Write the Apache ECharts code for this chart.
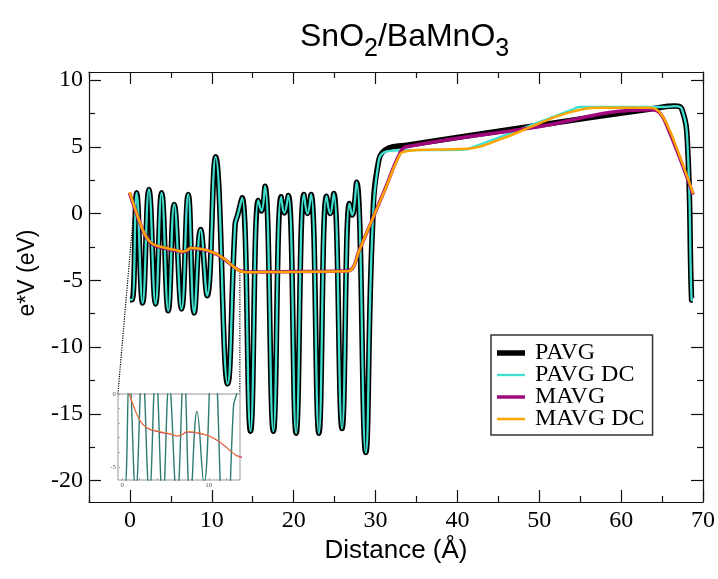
<!DOCTYPE html>
<html><head><meta charset="utf-8">
<script src="https://cdn.jsdelivr.net/npm/echarts@6/dist/echarts.min.js"></script>
<style>html,body{margin:0;padding:0;background:#fff}#c{width:718px;height:579px}</style>
</head><body><div id="c"></div>
<script>
// ---- tick values ----
const xMajorTicks = [0, 10, 20, 30, 40, 50, 60, 70];
const xMinorTicks = [-5, 5, 15, 25, 35, 45, 55, 65];
const yMajorTicks = [-20, -15, -10, -5, 0, 5, 10];
const yMinorTicks = [-17.5, -12.5, -7.5, -2.5, 2.5, 7.5];
const insetXLabels = [0, 10];
const insetXTicks = [0, 2, 4, 6, 8, 10, 12];
const insetYLabels = [-5, 0];
const insetYTicks = [-5, -4, -3, -2, -1, 0];

// ---- series values [distance, eV] ----
const pavg = [
  [0,-6.45],[0.28,-6.45],[0.82,1.55],[1.55,-6.7],[2.32,1.8],[3.13,-6.77],[3.87,1.55],
  [4.68,-7.28],[5.41,0.68],[6.31,-7.15],[7.12,1.43],[7.85,-7.45],[8.63,-1.2],[9.44,-6.15],
  [10.46,4.25],[11.93,-12.75],[12.85,-0.8],[13.15,-0.15],[13.71,1.18],[14.73,-16.3],
  [15.67,0.98],[16.08,0.2],[16.5,2.05],[17.52,-16.3],[18.46,1.25],[18.86,0.05],[19.35,1.35],
  [20.3,-16.45],[21.25,1.43],[21.69,0.0],[22.13,1.43],[23.08,-16.45],[24.0,1.3],[24.47,0.0],
  [24.9,1.5],[25.91,-16.1],[26.8,0.75],[27.15,-0.1],[27.69,2.35],[28.8,-17.9],[29.6,-1.5],
  [30.4,4.0],[31.6,4.9],[33.6,5.1],[48.7,6.5],[63.8,7.85],[66.6,8.05],[67.4,7.85],[68.1,5.3],
  [68.6,-6.45],[68.75,-6.5]
];
const pavgDC = [
  [0,-6.45],[0.28,-6.45],[0.82,1.55],[1.55,-6.7],[2.32,1.8],[3.13,-6.77],[3.87,1.55],
  [4.68,-7.28],[5.41,0.68],[6.31,-7.15],[7.12,1.43],[7.85,-7.45],[8.63,-1.2],[9.44,-6.15],
  [10.46,4.25],[11.93,-12.75],[12.85,-0.8],[13.15,-0.15],[13.71,1.18],[14.73,-16.3],
  [15.67,0.98],[16.08,0.2],[16.5,2.05],[17.52,-16.3],[18.46,1.25],[18.86,0.05],[19.35,1.35],
  [20.3,-16.45],[21.25,1.43],[21.69,0.0],[22.13,1.43],[23.08,-16.45],[24.0,1.3],[24.47,0.0],
  [24.9,1.5],[25.91,-16.1],[26.8,0.75],[27.15,-0.1],[27.69,2.35],[28.8,-17.9],[29.6,-1.5],
  [30.4,4.0],[31.1,4.6],[32.2,4.72],[36.5,4.75],[40.4,4.77],[41.1,4.8],[41.9,4.98],[48.0,6.38],
  [54.1,7.8],[54.9,7.98],[55.8,7.98],[60.0,7.98],[65.2,7.98],[66.6,8.05],[67.4,7.85],[68.1,5.3],
  [68.6,-6.45],[68.75,-6.5]
];
const mavg = [
  [-0.05,1.55],[0.5,0.55],[1.22,-0.7],[2.04,-1.82],[2.85,-2.33],[4.27,-2.6],[5.5,-2.75],
  [6.31,-2.88],[6.9,-2.8],[7.45,-2.6],[8.5,-2.65],[9.56,-2.8],[10.6,-3.05],[11.6,-3.45],
  [12.6,-3.95],[13.43,-4.28],[14.5,-4.38],[16.08,-4.37],[21,-4.34],[26.65,-4.3],[27.3,-4.0],
  [27.9,-2.95],[29.6,-0.45],[31.14,1.8],[33.0,4.55],[33.8,5.0],[48.7,6.38],[63.7,7.77],[64.5,7.65],
  [65.5,6.7],[68.8,1.43]
];
const mavgDC = [
  [-0.05,1.6],[0.5,0.6],[1.22,-0.68],[2.04,-1.8],[2.85,-2.3],[4.27,-2.56],[5.5,-2.72],
  [6.31,-2.85],[6.9,-2.78],[7.45,-2.58],[8.5,-2.63],[9.56,-2.78],[10.6,-3.03],[11.6,-3.43],
  [12.6,-3.95],[13.43,-4.3],[14.5,-4.4],[16.08,-4.38],[21,-4.36],[26.65,-4.32],[27.3,-4.0],
  [27.9,-2.95],[29.6,-0.45],[31.14,1.75],[33.0,4.45],[33.6,4.65],[35.0,4.75],[41.1,4.85],
  [45.2,5.55],[49.2,6.55],[53.3,7.5],[57.4,7.93],[63.5,7.93],[64.3,7.8],[65.5,6.8],
  [67.15,4.3],[68.8,1.5]
];
// zoom-indicator dotted lines (inset corners -> zoomed region)
const connectorLeft = [[-1.47,-13.5],[0.4,-0.3]];
const connectorRight = [[13.43,-13.5],[13.43,-4.4]];

const SERIF = "'Liberation Serif','Times New Roman',serif";
const SANS = "'Liberation Sans',Arial,Helvetica,sans-serif";
const AX = '#111';

function xAx(pos, ticks, len, labels, line) {
  return {
    type: 'value', gridIndex: 0, position: pos, min: -5, max: 70,
    name: labels ? 'Distance (\u00c5)' : '', nameLocation: 'middle', nameGap: 31,
    nameTextStyle: {fontFamily: SANS, fontSize: 26, color: '#000'},
    axisLine: {show: line, onZero: false, lineStyle: {color: AX, width: 1.2}},
    axisTick: {show: true, inside: true, length: len, customValues: ticks, lineStyle: {color: AX, width: 1.2}},
    axisLabel: {show: labels, customValues: xMajorTicks, margin: 7, fontFamily: SERIF, fontSize: 24, color: '#000'},
    splitLine: {show: false}
  };
}
function yAx(pos, ticks, len, labels, line) {
  return {
    type: 'value', gridIndex: 0, position: pos, min: -21.6, max: 10.6,
    name: labels ? 'e*V (eV)' : '', nameLocation: 'middle', nameGap: 50,
    nameTextStyle: {fontFamily: SANS, fontSize: 23, color: '#000', padding: [0, 0, 0, 28]},
    axisLine: {show: line, onZero: false, lineStyle: {color: AX, width: 1.2}},
    axisTick: {show: true, inside: true, length: len, customValues: ticks, lineStyle: {color: AX, width: 1.2}},
    axisLabel: {show: labels, customValues: yMajorTicks, margin: 6, fontFamily: SERIF, fontSize: 24, color: '#000'},
    splitLine: {show: false}
  };
}
function lineSeries(name, data, color, width, xi, yi, extra) {
  return Object.assign({
    name: name, type: 'line', data: data, xAxisIndex: xi, yAxisIndex: yi,
    smooth: 0.45, showSymbol: false, symbol: 'none', silent: true,
    lineStyle: {color: color, width: width}, itemStyle: {color: color}, animation: false
  }, extra || {});
}
function bar(h) { return 'path://M0,0L28,0L28,' + h + 'L0,' + h + 'Z'; }

const chart = echarts.init(document.getElementById('c'), null, {renderer: 'canvas'});
chart.setOption({
  backgroundColor: '#fff',
  animation: false,
  title: {
    text: '{a|SnO}{s|2}{a|/BaMnO}{s|3}',
    left: 295, top: 16,
    textStyle: {fontWeight: 'normal', rich: {
      a: {fontFamily: SANS, fontWeight: 'normal', fontSize: 32, color: '#000', verticalAlign: 'top', lineHeight: 34},
      s: {fontFamily: SANS, fontWeight: 'normal', fontSize: 25, color: '#000', verticalAlign: 'top', lineHeight: 34, padding: [16, 0, 0, 0]}
    }}
  },
  legend: {
    orient: 'vertical', left: 491, top: 335,
    data: [
      {name: 'PAVG', icon: bar(5.5)},
      {name: 'PAVG DC', icon: bar(2.3)},
      {name: 'MAVG', icon: bar(3.5)},
      {name: 'MAVG DC', icon: bar(2.5)}
    ],
    itemWidth: 28, itemHeight: 14, itemGap: -2,
    padding: [6, 8, 4, 6],
    borderColor: '#333', borderWidth: 1.5, backgroundColor: '#fff',
    selectedMode: false,
    textStyle: {fontFamily: SERIF, fontSize: 24, color: '#000', lineHeight: 22, padding: [0, 0, 0, 5]}
  },
  grid: [
    {left: 89, top: 72, right: 15, bottom: 77, containLabel: false},
    {left: 118, top: 394, width: 122, height: 86, show: true, borderColor: '#999', borderWidth: 1, backgroundColor: '#fff', z: 3}
  ],
  xAxis: [
    xAx('bottom', xMajorTicks, 12, true, true),
    xAx('bottom', xMinorTicks, 6, false, false),
    xAx('top', xMajorTicks, 12, false, true),
    xAx('top', xMinorTicks, 6, false, false),
    {type: 'value', gridIndex: 1, min: -0.5, max: 13.6, position: 'bottom', z: 4,
     axisLine: {show: false, onZero: false},
     axisTick: {show: true, inside: true, length: 2, customValues: insetXTicks, lineStyle: {color: '#999', width: 0.8}},
     axisLabel: {show: true, customValues: insetXLabels, margin: 2, fontFamily: SERIF, fontSize: 7, color: '#555'},
     splitLine: {show: false}}
  ],
  yAxis: [
    yAx('left', yMajorTicks, 12, true, true),
    yAx('left', yMinorTicks, 6, false, false),
    yAx('right', yMajorTicks, 12, false, true),
    yAx('right', yMinorTicks, 6, false, false),
    {type: 'value', gridIndex: 1, min: -5.9, max: 0, position: 'left', z: 4,
     axisLine: {show: false, onZero: false},
     axisTick: {show: true, inside: true, length: 2, customValues: insetYTicks, lineStyle: {color: '#999', width: 0.8}},
     axisLabel: {show: true, customValues: insetYLabels, margin: 2, fontFamily: SERIF, fontSize: 7, color: '#555'},
     splitLine: {show: false}}
  ],
  series: [
    lineSeries('conn1', connectorLeft, '#000', 1.2, 0, 0, {smooth: false, lineStyle: {color: '#000', width: 1.2, type: 'dotted'}, z: 1}),
    lineSeries('conn2', connectorRight, '#000', 1.2, 0, 0, {smooth: false, lineStyle: {color: '#000', width: 1.2, type: 'dotted'}, z: 1}),
    lineSeries('PAVG', pavg, '#000000', 5.5, 0, 0, {z: 2}),
    lineSeries('PAVG DC', pavgDC, '#40e0d0', 2.3, 0, 0, {z: 2}),
    lineSeries('MAVG', mavg, '#a0087c', 3.5, 0, 0, {z: 2}),
    lineSeries('MAVG DC', mavgDC, '#ffa500', 2.5, 0, 0, {z: 2}),
    lineSeries('inset PAVG', pavg, '#2e7b70', 1.4, 4, 4, {z: 5}),
    lineSeries('inset MAVG', mavg, '#b0208a', 1.1, 4, 4, {z: 5}),
    lineSeries('inset MAVG DC', mavgDC, '#ff9a20', 1.0, 4, 4, {z: 5})
  ]
});
</script>
</body></html>
